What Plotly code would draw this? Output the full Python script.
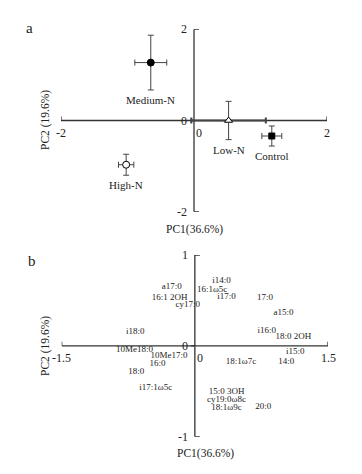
import plotly.graph_objects as go

# ---- Panel a data ----
groups = ["Medium-N", "Low-N", "Control", "High-N"]
pc1 = [-0.65, 0.52, 1.17, -1.02]
pc2 = [1.27, 0.0, -0.34, -0.97]
pc1_err = [0.24, 0.56, 0.15, 0.115]
pc2_err = [0.60, 0.42, 0.22, 0.23]
symbols = ["circle", "triangle-up", "square", "circle"]
fills = ["black", "white", "black", "white"]

# ---- Panel b data ----
fa_names = ["i14:0", "a17:0", "16:1ω5c", "16:1 2OH", "i17:0", "cy17:0", "17:0", "a15:0",
            "i18:0", "i16:0", "18:0 2OH", "10Me18:0", "10Me17:0", "i15:0", "18:1ω7c", "14:0",
            "16:0", "18:0", "i17:1ω5c", "15:0 3OH", "cy19:0ω8c", "18:1ω9c", "20:0"]
fa_pc1 = [0.30, -0.26, 0.195, -0.285, 0.357, -0.08, 0.79, 1.00,
          -0.67, 0.81, 1.11, -0.68, -0.29, 1.13, 0.52, 1.03,
          -0.42, -0.66, -0.44, 0.357, 0.357, 0.357, 0.77]
fa_pc2 = [0.72, 0.65, 0.62, 0.525, 0.54, 0.45, 0.53, 0.36,
          0.16, 0.17, 0.10, -0.04, -0.11, -0.07, -0.17, -0.17,
          -0.20, -0.28, -0.46, -0.50, -0.59, -0.68, -0.67]

a_xlim = [-2, 2]
a_ylim = [-2, 2]
b_xlim = [-1.5, 1.5]
b_ylim = [-1, 1]
a_xticks = ["-2", "0", "2"]
a_yticks = ["2", "0", "-2"]
b_xticks = ["-1.5", "0", "1.5"]
b_yticks = ["1", "0", "-1"]

FONT = "Liberation Serif"
TXT = "#222222"
AX = "#333333"

fig = go.Figure()

for i, g in enumerate(groups):
    fig.add_trace(go.Scatter(
        x=[pc1[i]], y=[pc2[i]], mode="markers", xaxis="x", yaxis="y",
        marker=dict(symbol=symbols[i], size=7 if symbols[i] != "square" else 6,
                    color=fills[i], line=dict(color="black", width=1)),
        error_x=dict(type="data", array=[pc1_err[i]], color="#444444",
                     thickness=2 if g == "Low-N" else 1, width=3),
        error_y=dict(type="data", array=[pc2_err[i]], color="#444444", thickness=1, width=3),
        showlegend=False, cliponaxis=False, hoverinfo="skip"))

fig.add_trace(go.Scatter(
    x=fa_pc1, y=fa_pc2, mode="text", text=fa_names, xaxis="x2", yaxis="y2",
    textfont=dict(family=FONT, size=9, color=TXT), textposition="middle center",
    marker=dict(color=TXT), showlegend=False, cliponaxis=False, hoverinfo="skip"))

shapes = []
annotations = []

def draw_axes(xl, yl, xs, ys, xticks, yticks, zshift):
    shapes.append(dict(type="line", xref=xs, yref=ys, x0=xl[0], x1=xl[1], y0=0, y1=0,
                       layer="below", line=dict(color=AX, width=1.3)))
    shapes.append(dict(type="line", xref=xs, yref=ys, x0=0, x1=0, y0=yl[0], y1=yl[1],
                       layer="below", line=dict(color=AX, width=1.3)))
    for xv in (xl[0], xl[1]):
        shapes.append(dict(type="line", xref=xs, yref=ys, ysizemode="pixel", yanchor=0,
                           x0=xv, x1=xv, y0=0, y1=4, layer="below", line=dict(color=AX, width=1.3)))
    for yv in (yl[0], yl[1]):
        shapes.append(dict(type="line", xref=xs, yref=ys, xsizemode="pixel", xanchor=0,
                           x0=0, x1=5, y0=yv, y1=yv, layer="below", line=dict(color=AX, width=1.3)))
    shapes.append(dict(type="line", xref=xs, yref=ys, xsizemode="pixel", xanchor=0,
                       x0=-4, x1=0, y0=0, y1=0, layer="below", line=dict(color=AX, width=1.3)))
    for xv, t in zip([xl[0], 0, xl[1]], xticks):
        annotations.append(dict(x=xv, y=0, xref=xs, yref=ys, text=t, showarrow=False,
                                xanchor="center", yanchor="middle",
                                xshift=zshift if xv == 0 else 0,
                                yshift=-12, font=dict(family=FONT, size=12, color=TXT)))
    for yv, t in zip([yl[1], 0, yl[0]], yticks):
        annotations.append(dict(x=0, y=yv, xref=xs, yref=ys, text=t, showarrow=False,
                                xanchor="right", yanchor="middle", xshift=-5,
                                font=dict(family=FONT, size=12, color=TXT)))

draw_axes(a_xlim, a_ylim, "x", "y", a_xticks, a_yticks, 5)
draw_axes(b_xlim, b_ylim, "x2", "y2", b_xticks, b_yticks, 5)

# group labels (panel a)
label_off = [-37, -29, -20, -20]
for i, g in enumerate(groups):
    annotations.append(dict(x=pc1[i], y=pc2[i], xref="x", yref="y", text=g, showarrow=False,
                            xanchor="center", yanchor="middle",
                            yshift=label_off[i], font=dict(family=FONT, size=11, color=TXT)))

# panel letters & axis titles
for txt, px, py in [("a", 29, 28), ("b", 32, 261)]:
    annotations.append(dict(x=px / 362, y=1 - py / 474, xref="paper", yref="paper", text=txt,
                            xanchor="center", yanchor="middle",
                            showarrow=False, font=dict(family=FONT, size=15, color=TXT)))
for px, py in [(194, 229), (205, 453)]:
    annotations.append(dict(x=px / 362, y=1 - py / 474, xref="paper", yref="paper", text="PC1(36.6%)",
                            xanchor="center", yanchor="middle",
                            showarrow=False, font=dict(family=FONT, size=11.5, color=TXT)))
for px, py in [(45, 120), (45, 346)]:
    annotations.append(dict(x=px / 362, y=1 - py / 474, xref="paper", yref="paper", text="PC2 (19.6%)",
                            xanchor="center", yanchor="middle",
                            textangle=-90, showarrow=False, font=dict(family=FONT, size=11.5, color=TXT)))

hidden = dict(showgrid=False, zeroline=False, showticklabels=False, showline=False, ticks="",
              showspikes=False)
fig.update_layout(
    width=362, height=474, margin=dict(l=0, r=0, t=0, b=0, pad=0), autosize=False,
    paper_bgcolor="white", plot_bgcolor="white", hovermode=False,
    xaxis=dict(domain=[61 / 362, 327 / 362], range=a_xlim, anchor="y", **hidden),
    yaxis=dict(domain=[1 - 211.7 / 474, 1 - 29.3 / 474], range=a_ylim, anchor="x", **hidden),
    xaxis2=dict(domain=[61.7 / 362, 328 / 362], range=b_xlim, anchor="y2", **hidden),
    yaxis2=dict(domain=[1 - 436.7 / 474, 1 - 255 / 474], range=b_ylim, anchor="x2", **hidden),
    shapes=shapes, annotations=annotations,
)

fig.write_html("out.html", config={"displayModeBar": False, "staticPlot": True},
               post_script="document.body.style.margin='0';document.body.style.overflow='hidden';")
